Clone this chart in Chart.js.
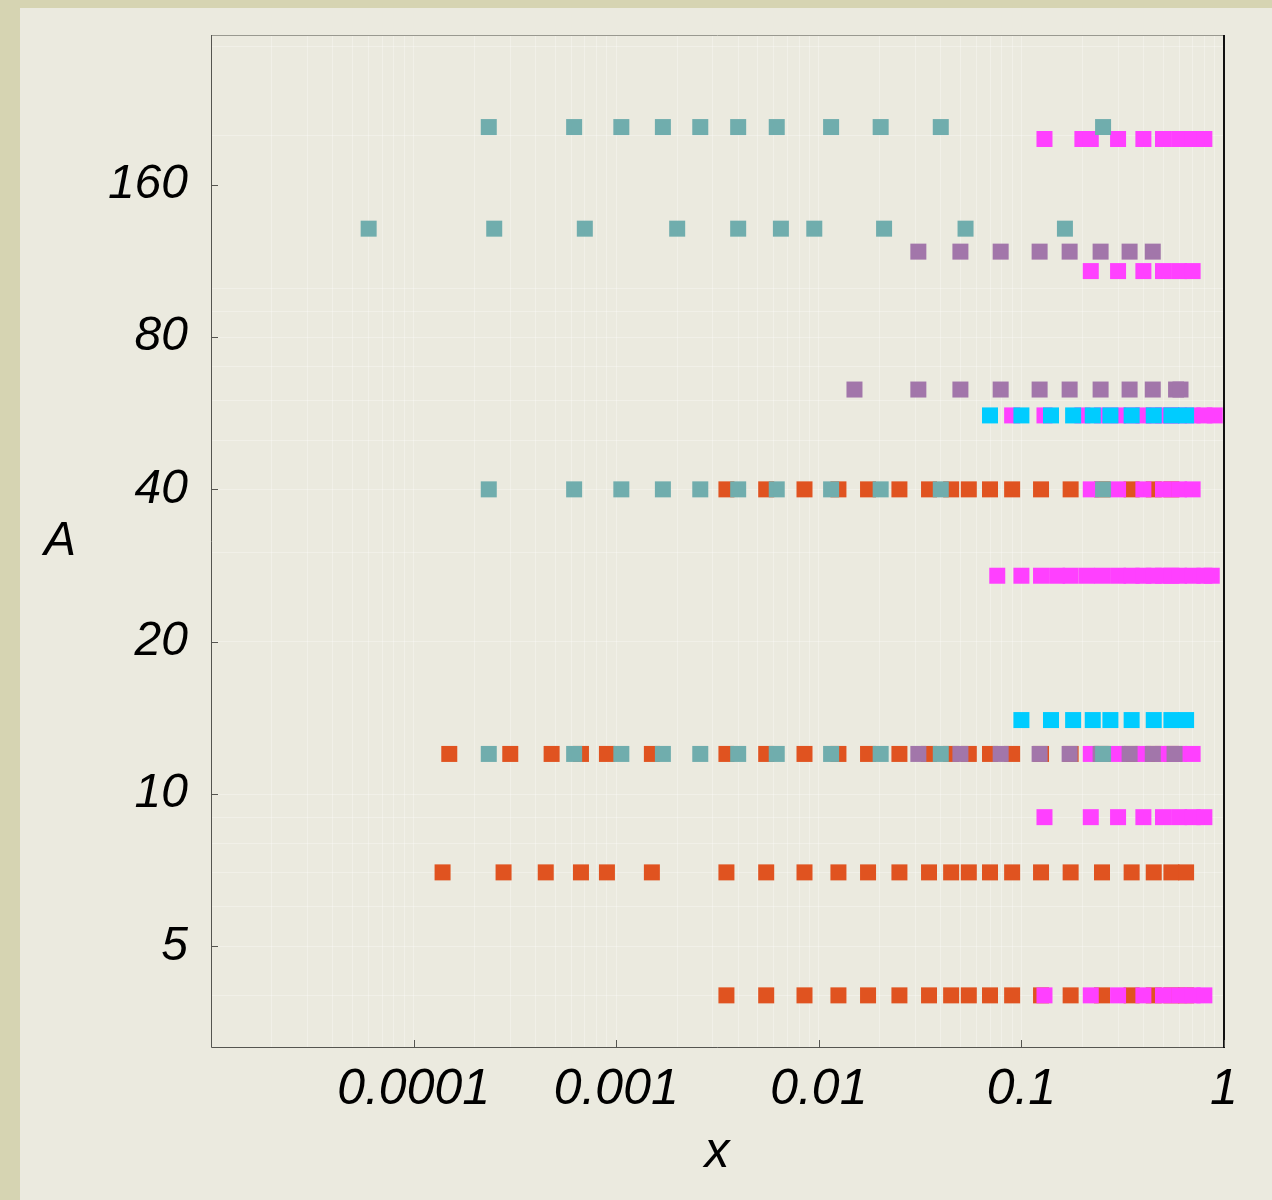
<html lang="en">
<head>
<meta charset="utf-8" />
<title>A versus x</title>
<script src="https://cdn.jsdelivr.net/npm/chart.js@4.4.1/dist/chart.umd.min.js"></script>
<style>
  * { margin: 0; padding: 0; box-sizing: border-box; }
  body { background: #d6d4b2; }
  .wrapper { position: relative; width: 1272px; height: 1200px; }
</style>
</head>
<body>
<div class="wrapper">
  <canvas id="chart"></canvas>
</div>
<script>
// Axis labels
const xTickValues = [0.0001, 0.001, 0.01, 0.1, 1];
const xTickLabels = ["0.0001", "0.001", "0.01", "0.1", "1"];
const yTickValues = [5, 10, 20, 40, 80, 160];
const yTickLabels = ["5", "10", "20", "40", "80", "160"];

// Teal series (x bins per nucleus)
const tealA = [12, 40, 131, 208];
const tealX12 = [0.000235, 0.00062, 0.00106, 0.0017, 0.0026, 0.004, 0.0062, 0.0115, 0.0202, 0.04, 0.253];
const tealX40 = [0.000235, 0.00062, 0.00106, 0.0017, 0.0026, 0.004, 0.0062, 0.0115, 0.0202, 0.04, 0.253];
const tealX131 = [0.00006, 0.00025, 0.0007, 0.002, 0.004, 0.0065, 0.0095, 0.021, 0.053, 0.164];
const tealX208 = [0.000235, 0.00062, 0.00106, 0.0017, 0.0026, 0.004, 0.0062, 0.0115, 0.0202, 0.04, 0.253];

// Orange series
const orangeA = [4, 7, 12, 40];
const orangeX4 = [0.0035, 0.0055, 0.0085, 0.0125, 0.0175, 0.025, 0.035, 0.045, 0.055, 0.07, 0.09, 0.125, 0.175, 0.25, 0.35, 0.45, 0.55, 0.65];
const orangeX7 = [0.000139, 0.000278, 0.000449, 0.00067, 0.0009, 0.0015, 0.0035, 0.0055, 0.0085, 0.0125, 0.0175, 0.025, 0.035, 0.045, 0.055, 0.07, 0.09, 0.125, 0.175, 0.25, 0.35, 0.45, 0.55, 0.65];
const orangeX12 = [0.00015, 0.0003, 0.00048, 0.00067, 0.0009, 0.0015, 0.0035, 0.0055, 0.0085, 0.0125, 0.0175, 0.025, 0.035, 0.045, 0.055, 0.07, 0.09, 0.125, 0.175, 0.25, 0.35, 0.45, 0.55];
const orangeX40 = [0.0035, 0.0055, 0.0085, 0.0125, 0.0175, 0.025, 0.035, 0.045, 0.055, 0.07, 0.09, 0.125, 0.175, 0.25, 0.35, 0.45, 0.55];

// Magenta series
const magentaA = [4, 9, 12, 27, 40, 56, 108, 197];
const magentaX4 = [0.13, 0.22, 0.3, 0.4, 0.5, 0.6, 0.7, 0.8];
const magentaX9 = [0.13, 0.22, 0.3, 0.4, 0.5, 0.6, 0.7, 0.8];
const magentaX12 = [0.22, 0.3, 0.4, 0.5, 0.6, 0.7];
const magentaX27 = [0.076, 0.1, 0.125, 0.15, 0.175, 0.21, 0.25, 0.3, 0.35, 0.4, 0.45, 0.5, 0.55, 0.6, 0.7, 0.8, 0.87];
const magentaX40 = [0.22, 0.3, 0.4, 0.5, 0.6, 0.7];
const magentaX56 = [0.09, 0.13, 0.2, 0.25, 0.3, 0.35, 0.4, 0.45, 0.5, 0.55, 0.6, 0.7, 0.8, 0.9];
const magentaX108 = [0.22, 0.3, 0.4, 0.5, 0.6, 0.7];
const magentaX197 = [0.13, 0.2, 0.22, 0.3, 0.4, 0.5, 0.6, 0.7, 0.8];

// Cyan series
const cyanA = [14, 56];
const cyanX14 = [0.1, 0.14, 0.18, 0.225, 0.275, 0.35, 0.45, 0.55, 0.65];
const cyanX56 = [0.07, 0.1, 0.14, 0.18, 0.225, 0.275, 0.35, 0.45, 0.55, 0.65];

// Purple series
const purpleA = [12, 63, 118];
const purpleX12 = [0.031, 0.05, 0.079, 0.123, 0.173, 0.246, 0.342, 0.445, 0.57];
const purpleX63 = [0.015, 0.031, 0.05, 0.079, 0.123, 0.173, 0.246, 0.342, 0.445, 0.58, 0.61];
const purpleX118 = [0.031, 0.05, 0.079, 0.123, 0.173, 0.246, 0.342, 0.445];

// turn (A list, x lists) into points
function toPoints(aList, xLists) {
    const pts = [];
    aList.forEach((a, i) => {
        xLists[i].forEach(x => pts.push({ x: x, y: a }));
    });
    return pts;
}

// grid positions: 1..9 per decade
function decadeGrid(fromExp, toExp) {
    const vals = [];
    for (let k = fromExp; k <= toExp; k++) {
        for (let m = 1; m <= 9; m++) {
            vals.push(Number((m * Math.pow(10, k)).toPrecision(6)));
        }
    }
    return vals;
}
const xGrid = decadeGrid(-5, -1).concat([1]);
const yGrid = [4, 5, 6, 7, 8, 9].concat(decadeGrid(1, 1), [100, 200, 300]);

const same = (a, b) => Math.abs(a / b - 1) < 1e-6;
const findIdx = (list, v) => list.findIndex(t => same(t, v));

const squareSide = 16;
const radius = squareSide / 2 / Math.SQRT1_2;
const gridColor = "rgba(255,255,255,0.3)";

function series(label, color, data) {
    return {
        label: label,
        data: data,
        backgroundColor: color,
        borderWidth: 0,
        pointStyle: "rect",
        pointRadius: radius,
        pointHoverRadius: radius,
    };
}

// paper background
const paperPlugin = {
    id: "paper",
    beforeDraw(chart) {
        const ctx = chart.ctx;
        ctx.save();
        ctx.fillStyle = "#d6d4b2";
        ctx.fillRect(0, 0, chart.width, chart.height);
        ctx.fillStyle = "#ebeadf";
        ctx.fillRect(20, 8, chart.width - 20, chart.height - 8);
        ctx.restore();
    },
};

// frame, inward ticks, axis titles
const framePlugin = {
    id: "frame",
    afterDraw(chart) {
        const ctx = chart.ctx;
        const area = chart.chartArea;
        const xs = chart.scales.x;
        const ys = chart.scales.y;
        ctx.save();
        ctx.lineWidth = 1;
        ctx.strokeStyle = "#999990";
        ctx.beginPath();
        ctx.moveTo(area.left, area.top + 0.5);
        ctx.lineTo(area.right, area.top + 0.5);
        ctx.stroke();
        ctx.strokeStyle = "#555550";
        ctx.beginPath();
        ctx.moveTo(area.left + 0.5, area.top);
        ctx.lineTo(area.left + 0.5, area.bottom + 0.5);
        ctx.lineTo(area.right, area.bottom + 0.5);
        ctx.stroke();
        ctx.strokeStyle = "#111111";
        ctx.lineWidth = 2;
        ctx.beginPath();
        ctx.moveTo(area.right, area.top);
        ctx.lineTo(area.right, area.bottom + 1);
        ctx.stroke();

        ctx.lineWidth = 1;
        ctx.strokeStyle = "#555550";
        ctx.beginPath();
        xTickValues.forEach(v => {
            const px = Math.round(xs.getPixelForValue(v)) + 0.5;
            ctx.moveTo(px, area.bottom);
            ctx.lineTo(px, area.bottom - 7);
        });
        yTickValues.forEach(v => {
            const py = Math.round(ys.getPixelForValue(v)) + 0.5;
            ctx.moveTo(area.left, py);
            ctx.lineTo(area.left + 7, py);
        });
        ctx.stroke();

        ctx.fillStyle = "#000000";
        ctx.textAlign = "center";
        ctx.textBaseline = "alphabetic";
        ctx.font = "italic 48px 'Liberation Sans'";
        ctx.fillText("A", 60, 555);
        ctx.font = "italic 50px 'Liberation Sans'";
        ctx.fillText("x", 717, 1167);
        ctx.restore();
    },
};

new Chart(document.getElementById("chart"), {
    type: "scatter",
    plugins: [paperPlugin, framePlugin],
    data: {
        datasets: [
            series("teal", "#70adad", toPoints(tealA, [tealX12, tealX40, tealX131, tealX208])),
            series("purple", "#a276aa", toPoints(purpleA, [purpleX12, purpleX63, purpleX118])),
            series("cyan", "#00ccff", toPoints(cyanA, [cyanX14, cyanX56])),
            series("magenta", "#ff40ff", toPoints(magentaA, [magentaX4, magentaX9, magentaX12, magentaX27, magentaX40, magentaX56, magentaX108, magentaX197])),
            series("orange", "#e05320", toPoints(orangeA, [orangeX4, orangeX7, orangeX12, orangeX40])),
        ],
    },
    options: {
        responsive: true,
        maintainAspectRatio: false,
        animation: false,
        layout: { padding: { left: 0, top: 35, right: 48, bottom: 0 } },
        plugins: {
            legend: { display: false },
            tooltip: { enabled: false },
        },
        scales: {
            x: {
                type: "logarithmic",
                min: 0.00001,
                max: 1,
                afterBuildTicks: scale => {
                    scale.ticks = xGrid.map(v => ({ value: v }));
                },
                afterFit: scale => {
                    scale.height = 153;
                    scale.paddingLeft = 0;
                    scale.paddingRight = 0;
                },
                grid: {
                    color: gridColor,
                    lineWidth: 1,
                    drawTicks: false,
                },
                border: { display: false },
                ticks: {
                    autoSkip: false,
                    maxRotation: 0,
                    padding: 13,
                    color: "#000000",
                    font: { family: "'Liberation Sans'", size: 50, style: "italic" },
                    callback: v => {
                        const i = findIdx(xTickValues, v);
                        return i >= 0 ? xTickLabels[i] : "";
                    },
                },
            },
            y: {
                type: "logarithmic",
                min: Math.pow(10, 0.5),
                max: Math.pow(10, 2.5),
                afterBuildTicks: scale => {
                    const vals = yGrid.slice();
                    yTickValues.forEach(v => { if (findIdx(vals, v) < 0) vals.push(v); });
                    vals.sort((a, b) => a - b);
                    scale.ticks = vals.map(v => ({ value: v }));
                },
                afterFit: scale => {
                    scale.width = 211;
                    scale.paddingTop = 0;
                    scale.paddingBottom = 0;
                },
                grid: {
                    color: c => (findIdx(yGrid, c.tick.value) >= 0 ? gridColor : "rgba(0,0,0,0)"),
                    lineWidth: 1,
                    drawTicks: false,
                },
                border: { display: false },
                ticks: {
                    autoSkip: false,
                    padding: 23,
                    color: "#000000",
                    font: { family: "'Liberation Sans'", size: 48, style: "italic" },
                    callback: v => {
                        const i = findIdx(yTickValues, v);
                        return i >= 0 ? yTickLabels[i] : "";
                    },
                },
            },
        },
    },
});
</script>
</body>
</html>
